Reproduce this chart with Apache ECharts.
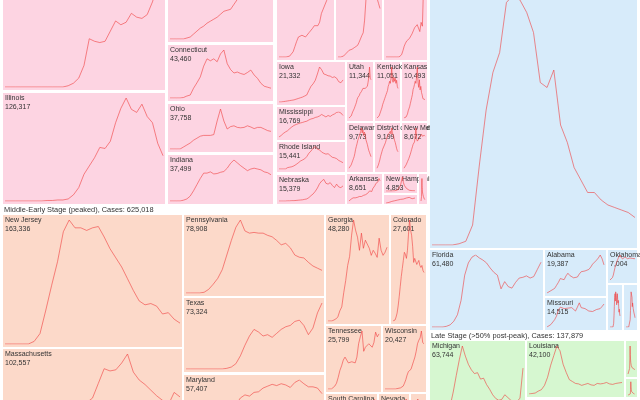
<!DOCTYPE html>
<html>
<head>
<meta charset="utf-8">
<script src="https://cdn.jsdelivr.net/npm/echarts@6/dist/echarts.min.js"></script>
<style>
  html, body { margin: 0; padding: 0; background: #fff; overflow: hidden; width: 640px; height: 400px; }
  /* the chart is taller than the window: its top and bottom rows are cut off, as in the source */
  #chart { position: absolute; left: 0; top: -80px; width: 640px; height: 570px; }
</style>
</head>
<body>
<div id="chart"></div>
<script>
  // dates every 5 days, same for every state
  const days = ['03-01','03-06','03-11','03-16','03-21','03-26','03-31','04-05','04-10','04-15','04-20',
    '04-25','04-30','05-05','05-10','05-15','05-20','05-25','05-30','06-04','06-09','06-14','06-19',
    '06-24','06-29','07-04','07-09','07-14','07-19','07-24','07-29']

  // daily cases (each line is scaled to its own cell)
  const pinkTopLeft = [0,0,0,0,0,0,0,0,0,0,0,0,1,3,7,17,38,36,35,36,44,52,49,51,58,55,54,57,67,80,100]
  const illinois = [0,0,0,0,0,0,0,0,0.5,0.5,1,1,2,6,13,26,34,42,52,51,58,76,90,100,89,86,94,82,76,56,44]
  const pinkTopMid = [0,0,0,0,0,1,2,5,8,11,13,16,18,20,22,25,28,29,30,35,40,45,50,55,62,70,76,82,88,94,100]
  const connecticut = [0,0,0,0,1,4,6,20,31,43,65,80,76,80,74,90,98,70,58,51,53,50,48,52,57,47,40,30,24,22,20]
  const ohio = [0,0,0,0,5,10,15,22,27,32,34,34,34,36,70,100,70,50,56,58,54,53,54,58,55,51,54,54,50,46,44]
  const indiana = [0,0,0,0,2,5,12,25,40,55,68,68,71,66,67,70,72,80,92,100,93,86,80,74,78,80,78,76,71,69,64]
  const pinkTopC = [0,0,0,0,0,0,1,3,6,12,18,23,24,25,25,23,25,28,29,33,36,37,36,40,50,55,60,65,70,85,100]
  const pinkTopD = [0,0,0,0,1,2,4,6,7,7,8,9,10,11,12,15,17,22,25,38,60,80,95,100,97,90,80,70,60,55,50]
  const pinkTopE = [0,0,0,0,0,0,0,0,0,0,0,0,3,8,14,18,21,22,24,26,30,34,38,40,42,44,33,45,40,100,90]
  const iowa = [0,0,1,2,3,4,5,6,8,10,12,14,17,20,33,45,52,62,80,100,92,80,78,75,74,70,72,68,58,55,63]
  const mississippi = [0,6,14,20,25,33,40,46,50,53,56,58,61,63,68,72,74,78,80,84,90,85,80,86,82,88,92,98,100,96,86]
  const rhodeIsland = [0,0,0,0,6,8,10,14,20,27,35,40,45,55,70,80,92,100,88,85,75,70,66,68,60,52,50,46,38,33,28]
  const nebraska = [0,0,0,0,1,1,2,2,3,4,5,6,8,10,16,25,33,45,60,80,92,100,82,78,85,72,62,78,65,62,70]
  const utah = [0,1,2,4,8,12,15,18,22,26,30,36,40,42,44,48,50,52,54,58,56,60,58,55,58,62,70,80,100,78,75]
  const kentucky = [0,1,2,4,8,12,16,20,26,30,34,38,42,46,50,54,62,66,72,68,78,100,75,70,80,72,78,68,74,62,58]
  const kansas = [0,0,1,2,4,8,14,18,22,28,34,40,46,56,60,66,72,68,80,100,70,60,75,55,62,50,45,38,35,40,36]
  const delaware = [2,4,6,10,15,20,25,30,38,48,55,62,70,75,80,86,92,100,88,95,82,90,85,72,68,60,52,45,40,36,30]
  const districtOfColumbia = [2,6,10,16,22,30,36,42,48,52,56,60,64,70,76,80,84,86,88,92,85,100,88,92,78,70,65,58,50,45,42]
  const newMexico = [2,4,6,10,14,18,22,26,30,36,42,48,54,60,64,66,80,100,74,68,70,72,75,80,82,85,80,83,78,82,80]
  const arkansas = [0,4,8,12,14,16,14,13,16,18,20,24,20,22,25,24,28,32,34,40,45,38,42,55,62,68,78,72,85,100,90]
  const newHampshire = [0,0,0,0,0,0,0,0,1,2,3,5,8,12,20,40,70,100,60,40,30,20,12,8,6,5,4,3,3,2,2]
  const pinkStrip = [0,0,5,10,15,20,25,30,30,35,40,45,45,50,55,55,60,65,60,65,70,75,70,80,85,100,60,65,70,80,75]
  const pinkNarrow = [0,0,0,5,20,50,80,100,70,60,50,40,45,35,30,28,25,22,20,18,15,14,12,10,10,9,8,8,7,6,6]

  const newJersey = [0,0,0,0,0,2,8,26,45,63,86,95,89,89,87,89,90,82,73,66,59,50,41,33,30,31,29,23,24,19,16]
  const massachusetts = [0,0,0,0,0,1,3,10,20,30,38,45,50,54,57,61,74,87,85,86,92,100,84,77,73,68,63,59,55,66,62]
  const pennsylvania = [0,0,0,0,1,5,12,20,32,52,72,90,100,85,82,83,82,82,79,77,72,66,68,62,52,49,48,42,37,34,31]
  const texas = [0,0,0,0,0,0,0,0,0,1,3,8,20,36,50,60,56,50,52,48,54,60,64,66,72,74,66,52,62,85,100]
  const maryland = [0,0,0,0,0,0,3,10,20,32,45,60,71,76,74,80,81,87,90,93,91,94,92,88,96,100,94,89,89,87,78]
  const georgia = [0,0,0,1,2,4,10,14,28,40,55,64,85,100,90,83,70,87,72,80,80,72,65,70,67,63,82,70,65,68,73]
  const colorado = [0,0,1,4,8,15,24,34,44,52,60,68,66,62,70,86,100,90,85,74,58,62,62,56,58,60,55,53,55,50,48]
  const tennessee = [0,0,0,1,5,10,20,32,40,50,55,50,45,46,47,45,45,55,78,90,100,65,72,70,78,75,72,80,98,90,95]
  const wisconsin = [0,0,0,0,0,0,0,0,0,1,1,2,2,3,5,10,16,24,30,32,34,36,48,55,65,78,84,88,100,80,78]
  const southCarolina = [0,0,0,0,1,2,4,6,8,10,12,14,16,18,20,22,24,26,28,30,34,38,44,50,58,66,74,82,90,96,100]
  const nevada = [0,0,0,1,3,6,10,14,18,22,26,30,34,36,38,40,42,44,46,50,55,60,65,70,75,80,85,90,95,100,96]
  const orangeNarrow = [0,0,0,0,0,0,0,2,5,10,20,40,70,100,80,60,50,45,40,38,36,34,32,30,28,26,24,22,20,18,16]

  const blueBig = [0,0,0,0,0.5,1.5,8,32,54,69,77,97,100,98,93,85,65,63,70,48,41,31,26,21,21,18,16,15,14,13,11]
  const florida = [0,0,0,0,1,3,8,17,37,72,89,97,100,96,93,89,82,76,72,53,63,56,54,62,68,69,71,68,70,80,90]
  const alabama = [0,2,6,8,12,20,28,38,40,35,45,52,46,42,40,42,42,50,56,60,58,56,62,68,76,80,86,92,100,90,74]
  const missouri = [0,4,10,16,30,45,70,82,80,76,82,78,75,80,78,66,82,100,80,74,76,68,66,62,64,70,72,72,76,85,95]
  const oklahoma = [0,2,5,10,20,35,50,62,70,80,88,85,100,92,86,84,82,88,92,90,95,85,80,78,88,95,92,86,90,88,85]
  const blueNarrow1 = [0,0,0,0,0,0,0,0,0,0,2,10,30,55,80,90,70,95,100,85,60,70,90,75,65,72,55,40,48,35,30]
  const blueNarrow2 = [0,0,0,0,0,0,0,0,0,0,0,0,0,5,20,45,70,95,90,100,80,55,65,60,50,45,40,42,35,30,25]

  const michigan = [0,0,1,3,10,20,35,50,68,85,100,89,80,74,70,71,64,65,58,53,47,43,41,42,47,44,41,40,40,43,76]
  const louisiana = [0,1,2,6,9,18,35,60,80,100,90,62,45,30,26,22,21,18,20,22,19,18,22,21,22,24,21,20,22,23,24]
  const greenNarrow1 = [0,0,0,0,0,0,5,20,60,100,70,50,40,35,30,28,26,24,22,20,22,24,20,18,16,18,20,17,15,16,15]
  const greenNarrow2 = [0,0,0,0,0,0,0,0,0,0,10,40,100,60,40,30,25,20,18,16,15,14,13,12,12,11,10,10,9,9,8]

  const stageColors = {
    early: '#fdd4e2',
    middle: '#fcd9c9',
    peak: '#d7ebfa',
    late: '#d6f7d0'
  }
  const stageTitles = [
    {text: 'Middle-Early Stage (peaked), Cases: 625,018', x: 4, y: 210},
    {text: 'Late Stage (>50% post-peak), Cases: 137,879', x: 431, y: 336}
  ]

  // name, cases, stage, x, y, w, h, data  (y as seen in the window; cells whose labels sit above it have no name)
  const cells = [
    [null, null, 'early', 3, -45, 162, 135, pinkTopLeft],
    ['Illinois', '126,317', 'early', 3, 93, 162, 111, illinois],
    [null, null, 'early', 168, -65, 105, 107, pinkTopMid],
    ['Connecticut', '43,460', 'early', 168, 45, 105, 56, connecticut],
    ['Ohio', '37,758', 'early', 168, 104, 105, 48, ohio],
    ['Indiana', '37,499', 'early', 168, 155, 105, 49, indiana],
    [null, null, 'early', 277, -35, 57, 95, pinkTopC],
    [null, null, 'early', 336, -45, 46, 105, pinkTopD],
    [null, null, 'early', 384, -25, 43, 85, pinkTopE],
    ['Iowa', '21,332', 'early', 277, 62, 68, 43, iowa],
    ['Mississippi', '16,769', 'early', 277, 107, 68, 33, mississippi],
    ['Rhode Island', '15,441', 'early', 277, 142, 68, 30, rhodeIsland],
    ['Nebraska', '15,379', 'early', 277, 175, 68, 29, nebraska],
    ['Utah', '11,344', 'early', 347, 62, 26, 59, utah],
    ['Kentucky', '11,051', 'early', 375, 62, 25, 59, kentucky],
    ['Kansas', '10,493', 'early', 402, 62, 25, 59, kansas],
    ['Delaware', '9,773', 'early', 347, 123, 26, 49, delaware],
    ['District of Columbia', '9,199', 'early', 375, 123, 25, 49, districtOfColumbia],
    ['New Mexico', '8,672', 'early', 402, 123, 25, 49, newMexico],
    ['Arkansas', '8,651', 'early', 347, 174, 35, 30, arkansas],
    ['New Hampshire', '4,853', 'early', 384, 174, 33, 19, newHampshire],
    [null, null, 'early', 384, 195, 33, 9, pinkStrip],
    [null, null, 'early', 419, 174, 8, 30, pinkNarrow],

    ['New Jersey', '163,336', 'middle', 3, 215, 179, 132, newJersey],
    ['Massachusetts', '102,557', 'middle', 3, 349, 179, 121, massachusetts],
    ['Pennsylvania', '78,908', 'middle', 184, 215, 140, 81, pennsylvania],
    ['Texas', '73,324', 'middle', 184, 298, 140, 74, texas],
    ['Maryland', '57,407', 'middle', 184, 375, 140, 70, maryland],
    ['Georgia', '48,280', 'middle', 326, 215, 63, 109, georgia],
    ['Colorado', '27,601', 'middle', 391, 215, 35, 109, colorado],
    ['Tennessee', '25,799', 'middle', 326, 326, 55, 66, tennessee],
    ['Wisconsin', '20,427', 'middle', 383, 326, 43, 66, wisconsin],
    ['South Carolina', null, 'middle', 326, 394, 51, 50, southCarolina],
    ['Nevada', null, 'middle', 379, 394, 30, 50, nevada],
    [null, null, 'middle', 411, 394, 15, 50, orangeNarrow],

    [null, null, 'peak', 430, -10, 207, 258, blueBig],
    ['Florida', '61,480', 'peak', 430, 250, 113, 80, florida],
    ['Alabama', '19,387', 'peak', 545, 250, 61, 46, alabama],
    ['Missouri', '14,515', 'peak', 545, 298, 61, 32, missouri],
    ['Oklahoma', '7,004', 'peak', 608, 250, 29, 33, oklahoma],
    [null, null, 'peak', 608, 285, 14, 45, blueNarrow1],
    [null, null, 'peak', 624, 285, 13, 45, blueNarrow2],

    ['Michigan', '63,744', 'late', 430, 341, 95, 100, michigan],
    ['Louisiana', '42,100', 'late', 527, 341, 97, 56, louisiana],
    [null, null, 'late', 626, 341, 11, 36, greenNarrow1],
    [null, null, 'late', 626, 379, 11, 18, greenNarrow2]
  ]

  const shift = 80   // chart top sits 80px above the window
  const font = '"Liberation Sans", Arial, sans-serif'
  const grids = [], xAxes = [], yAxes = [], series = [], elements = []

  // rect then labels, cell by cell: a later cell hides the overflow of an earlier label
  cells.forEach(function (c, i) {
    const [name, cases, stage, x, y0, w, h, data] = c
    const y = y0 + shift
    const padTop = Math.min(5, h * 0.15)
    const padBottom = Math.min(3, h * 0.1)
    elements.push({
      type: 'rect', silent: true, z: 0,
      shape: {x: x, y: y, width: w, height: h},
      style: {fill: stageColors[stage]}
    })
    if (name) {
      elements.push({
        type: 'text', silent: true, z: 0, x: x + 2, y: y + 5,
        style: {text: name, fontSize: 7, fontFamily: font, fill: '#333', verticalAlign: 'middle'}
      })
    }
    if (cases) {
      elements.push({
        type: 'text', silent: true, z: 0, x: x + 2, y: y + 14,
        style: {text: cases, fontSize: 7, fontFamily: font, fill: '#333', verticalAlign: 'middle'}
      })
    }
    grids.push({left: x + 2, top: y + padTop, width: w - 4, height: h - padTop - padBottom})
    xAxes.push({type: 'category', gridIndex: i, data: days, show: false, boundaryGap: false})
    yAxes.push({type: 'value', gridIndex: i, show: false, min: 0, max: 'dataMax'})
    series.push({
      type: 'line', name: name || '', xAxisIndex: i, yAxisIndex: i, data: data,
      showSymbol: false, silent: true,
      lineStyle: {width: 1, color: 'rgba(240,64,64,0.6)'}
    })
  })

  stageTitles.forEach(function (t) {
    elements.push({
      type: 'text', silent: true, z: 1, x: t.x, y: t.y + shift,
      style: {text: t.text, fontSize: 7.4, fontFamily: font, fill: '#333', verticalAlign: 'middle'}
    })
  })

  const chart = echarts.init(document.getElementById('chart'))
  chart.setOption({
    animation: false,
    backgroundColor: '#fff',
    graphic: {elements: elements},
    grid: grids,
    xAxis: xAxes,
    yAxis: yAxes,
    series: series
  })
</script>
</body>
</html>
